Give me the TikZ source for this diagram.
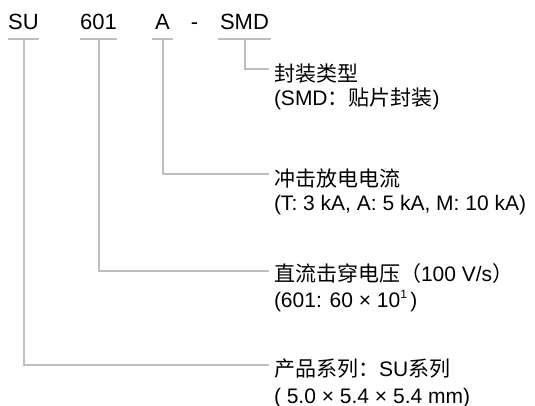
\documentclass[tikz,border=0pt]{standalone}
\usepackage{fontspec}
\setmainfont{Liberation Sans}
\newfontfamily\cjk{Noto Sans CJK SC}
\definecolor{linegray}{RGB}{190,190,190}
\begin{document}
\begin{tikzpicture}[x=1pt,y=-1pt,
  code/.style={font=\fontsize{22}{26}\selectfont, inner ysep=0pt, outer sep=0pt, anchor=base, text depth=0pt},
  desc/.style={font=\fontsize{21}{25}\selectfont, inner sep=0pt, outer sep=0pt, anchor=base west},
  ul/.style={draw=linegray, line width=2pt},
  conn/.style={draw=linegray, line width=2pt}]
\useasboundingbox (0,0) rectangle (535,406);
% top code
\node[code, inner xsep=0.5pt] (su) at (23.5,30) {SU};
\node[code, inner xsep=0pt] (n601) at (98.5,30) {601};
\node[code, inner xsep=3.5pt] (a) at (162.5,30) {A};
\node[code, inner xsep=0pt] (dash) at (194.5,30) {-};
\node[code, inner xsep=2pt] (smd) at (244.5,30) {SMD};
% underlines
\foreach \n in {su,n601,a,smd}{
  \draw[ul] ([yshift=-9.5pt]\n.base west) -- ([yshift=-9.5pt]\n.base east);
  \coordinate (\n U) at ([yshift=-9.5pt]\n.base);
}
% descriptions
\node[desc] (pkgT) at (274,82) {\cjk 封装类型};
\node[desc] (pkgS) at (274,106) {(SMD{\cjk ：贴片封装})};
\node[desc] (impT) at (274,186) {\cjk 冲击放电电流};
\node[desc] (impS) at (274,210) {(T: 3 kA, A: 5 kA, M: 10 kA)};
\node[desc] (dcT) at (274,281) {{\cjk 直流击穿电压（}100 V/s{\cjk ）}};
\node[desc] (dcS) at (274,307) {(601: 60 × 10\raisebox{0.42em}{\fontsize{12}{12}\selectfont 1}\,)};
\node[desc] (famT) at (274,376) {{\cjk 产品系列：}SU{\cjk 系列}};
\node[desc] (famS) at (274,403) {( 5.0 × 5.4 × 5.4 mm)};
% connectors
\draw[conn] (smdU) |- ([shift={(-5.5pt,13pt)}]pkgT.base west);
\draw[conn] (aU) |- ([shift={(-5.5pt,12pt)}]impT.base west);
\draw[conn] (n601U) |- ([shift={(-5.5pt,10pt)}]dcT.base west);
\draw[conn] (suU) |- ([shift={(-5.5pt,11pt)}]famT.base west);
\end{tikzpicture}
\end{document}
